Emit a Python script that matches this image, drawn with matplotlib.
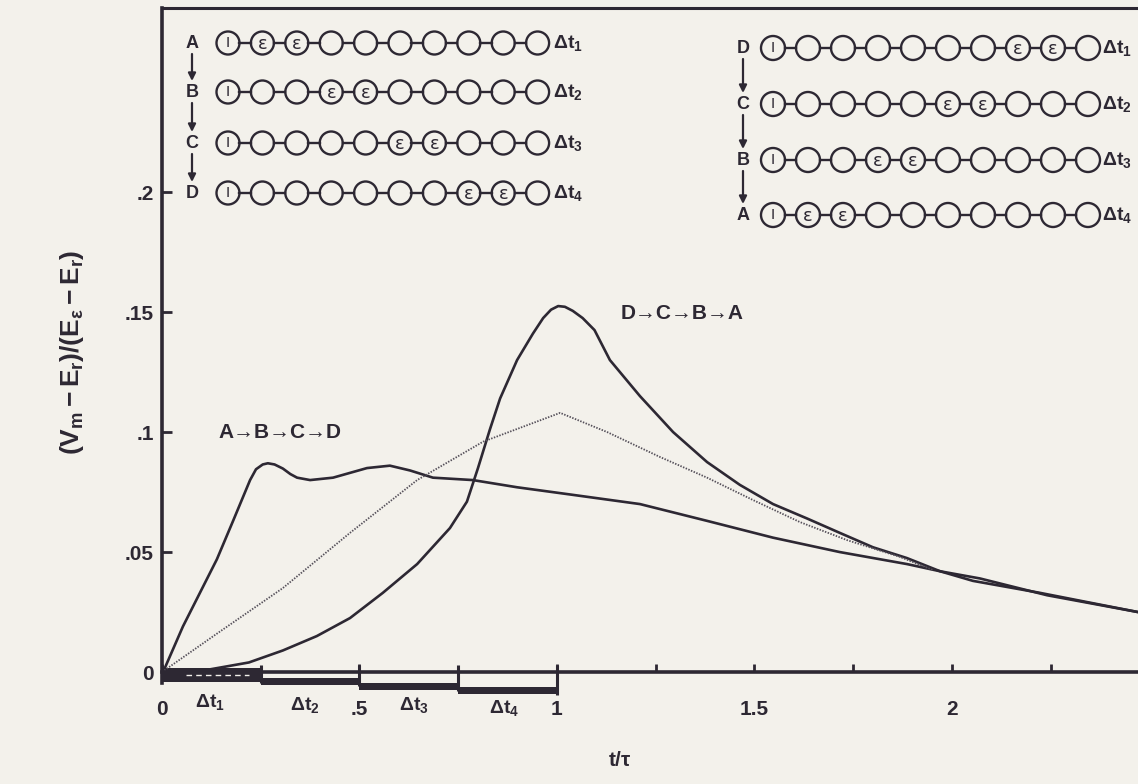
import numpy as np
import matplotlib.pyplot as plt
from matplotlib.patches import Circle

plt.rcParams['font.family'] = ['Liberation Sans', 'DejaVu Sans']
plt.rcParams['font.weight'] = 'bold'
plt.rcParams['mathtext.fontset'] = 'custom'
plt.rcParams['mathtext.rm'] = 'Liberation Sans:bold'
plt.rcParams['mathtext.it'] = 'Liberation Sans:bold'
plt.rcParams['mathtext.bf'] = 'Liberation Sans:bold'

INK = '#2d2833'
PAPER = '#f3f1eb'

# input sequence A->B->C->D (proximal to distal)
t_abcd = [0, 0.008, 0.053, 0.139, 0.18, 0.223, 0.238, 0.255, 0.268, 0.285,
          0.306, 0.325, 0.342, 0.375, 0.433, 0.519, 0.577, 0.628, 0.686,
          0.787, 0.899, 1.033, 1.21, 1.38, 1.547, 1.716, 1.886, 1.97, 2.071,
          2.241, 2.471]
v_abcd = [0, 0.002, 0.019, 0.047, 0.063, 0.080, 0.0845, 0.0865, 0.087,
          0.0865, 0.0848, 0.0825, 0.081, 0.080, 0.081, 0.085, 0.086, 0.084,
          0.081, 0.080, 0.077, 0.074, 0.070, 0.063, 0.056, 0.050, 0.045,
          0.042, 0.039, 0.032, 0.025]

# input sequence D->C->B->A (distal to proximal)
t_dcba = [0, 0.1, 0.22, 0.306, 0.392, 0.476, 0.559, 0.646, 0.729, 0.772,
          0.80, 0.83, 0.856, 0.899, 0.939, 0.965, 0.985, 1.003, 1.02, 1.04,
          1.065, 1.095, 1.134, 1.21, 1.294, 1.38, 1.463, 1.547, 1.633, 1.716,
          1.8, 1.886, 1.97, 2.053, 2.223, 2.471]
v_dcba = [0, 0.0005, 0.004, 0.009, 0.015, 0.0225, 0.033, 0.045, 0.060, 0.071,
          0.085, 0.101, 0.114, 0.130, 0.141, 0.1475, 0.151, 0.1525, 0.1522,
          0.1505, 0.1475, 0.1425, 0.130, 0.115, 0.1000, 0.0875, 0.078, 0.070,
          0.064, 0.058, 0.052, 0.0475, 0.042, 0.038, 0.033, 0.025]

# uniform input (dotted)
t_unif = [0, 0.139, 0.306, 0.476, 0.646, 0.813, 1.008, 1.127, 1.261, 1.38,
          1.496, 1.615, 1.734, 1.868, 1.952]
v_unif = [0, 0.016, 0.035, 0.058, 0.080, 0.096, 0.108, 0.100, 0.0896, 0.081,
          0.0717, 0.0625, 0.055, 0.048, 0.0425]

# input intervals
dt_edges = [0, 0.25, 0.5, 0.75, 1.0]
dt_labels = [r'$\Delta t_1$', r'$\Delta t_2$', r'$\Delta t_3$', r'$\Delta t_4$']

# compartment diagrams: which compartments are excited in each step
left_rows = ['A', 'B', 'C', 'D']
left_exc = [(1, 2), (3, 4), (5, 6), (7, 8)]
right_rows = ['D', 'C', 'B', 'A']
right_exc = [(7, 8), (5, 6), (3, 4), (1, 2)]
n_comp = 10

fig = plt.figure(figsize=(11.38, 7.84), dpi=100, facecolor=PAPER)
ax = fig.add_axes([0.14235, 0.129, 0.85765, 0.8608])
ax.set_facecolor(PAPER)

ax.plot(t_abcd, v_abcd, color=INK, lw=1.9, solid_capstyle='round',
        solid_joinstyle='round')
ax.plot(t_dcba, v_dcba, color=INK, lw=1.9, solid_capstyle='round',
        solid_joinstyle='round')
ax.plot(t_unif, v_unif, color='#55505a', lw=1.3, ls=(0, (0.8, 0.8)))

ax.set_xlim(0, 2.471)
ax.set_ylim(-0.0045, 0.2767)

ax.spines['right'].set_visible(False)
ax.spines['bottom'].set_position(('data', 0))
for s in ['left', 'bottom']:
    ax.spines[s].set_linewidth(2.6)
    ax.spines[s].set_color(INK)
ax.spines['top'].set_linewidth(2.2)
ax.spines['top'].set_color(INK)

ax.set_yticks([0, 0.05, 0.1, 0.15, 0.2])
ax.set_yticklabels(['0', '.05', '.1', '.15', '.2'])
ax.set_xticks([0, 0.5, 1, 1.5, 2])
ax.set_xticklabels(['0', '.5', '1', '1.5', '2'])
ax.set_xticks([1.25, 1.75, 2.25], minor=True)
ax.tick_params(axis='y', direction='in', length=7, width=2, pad=6,
               labelsize=15, colors=INK)
ax.tick_params(axis='x', which='both', direction='in', length=6, width=2,
               pad=20, labelsize=15, colors=INK)
ax.tick_params(top=False, right=False)

# stepped input bars under the time axis
bar_tops = [0.0017, -0.0025, -0.0046, -0.0063]
bar_bots = [-0.0042, -0.0054, -0.0075, -0.0092]
for i in range(4):
    ax.fill_between([dt_edges[i], dt_edges[i + 1]], bar_bots[i], bar_tops[i],
                    color=INK, lw=0, clip_on=False)
    ax.vlines(dt_edges[i + 1], bar_bots[i] - 0.0003, 0.003, color=INK,
              lw=2.2, clip_on=False)
ax.hlines(-0.0012, 0.06, 0.22, color=PAPER, lw=1, ls=(0, (4, 3)), clip_on=False)

dt_x = [0.12, 0.362, 0.638, 0.866]
dt_y = [-0.0125, -0.0137, -0.0137, -0.015]
for x, y, lab in zip(dt_x, dt_y, dt_labels):
    ax.text(x, y, lab, ha='center', va='center', fontsize=14, color=INK,
            clip_on=False)

ax.text(0.142, 0.100, 'A\u2192B\u2192C\u2192D', fontsize=15, color=INK,
        va='center', ha='left')
ax.text(1.16, 0.1496, 'D\u2192C\u2192B\u2192A', fontsize=15, color=INK,
        va='center', ha='left')

ax.set_ylabel(r'$(V_m - E_r)/(E_\epsilon - E_r)$', fontsize=19, color=INK)
ax.yaxis.set_label_coords(-0.078, 0.49)
fig.text(620 / 1138, 1 - 760 / 784, r't/$\tau$', fontsize=15, color=INK,
         ha='center', va='center')

# compartment chain diagrams drawn in pixel space
ov = fig.add_axes([0, 0, 1, 1], zorder=3)
ov.set_xlim(0, 1138)
ov.set_ylim(784, 0)
ov.axis('off')
ov.patch.set_alpha(0)


def draw_chain(rows, exc, ys, lab_x, x0, dx, r, dt_xpos):
    for k, (name, ee, y) in enumerate(zip(rows, exc, ys)):
        ov.text(lab_x, y, name, ha='center', va='center', fontsize=13,
                color=INK)
        for j in range(n_comp):
            cx = x0 + j * dx
            ov.add_patch(Circle((cx, y), r, fill=False, ec=INK, lw=1.7))
            if j < n_comp - 1:
                ov.plot([cx + r, cx + dx - r], [y, y], color=INK, lw=1.7)
            if j == 0:
                ov.text(cx, y, 'I', ha='center', va='center', fontsize=11,
                        color=INK, fontweight='normal')
            elif j in ee:
                ov.text(cx, y + 1, '\u03b5', ha='center', va='center',
                        fontsize=13, color=INK, fontweight='normal',
                        family='DejaVu Sans')
        ov.text(dt_xpos, y, r'$\Delta t_%d$' % (k + 1), ha='left',
                va='center', fontsize=14, color=INK)
        if k < len(rows) - 1:
            ov.annotate('', xy=(lab_x, ys[k + 1] - 11), xytext=(lab_x, y + 11),
                        arrowprops=dict(arrowstyle='-|>', lw=1.6, color=INK,
                                        mutation_scale=11,
                                        shrinkA=0, shrinkB=0))


draw_chain(left_rows, left_exc, [43, 92, 143, 193], 192, 228, 34.4, 11.5, 553)
draw_chain(right_rows, right_exc, [48, 104, 160, 215], 743, 773, 35, 12, 1102)

fig.savefig('out.png', dpi=100, facecolor=PAPER)
